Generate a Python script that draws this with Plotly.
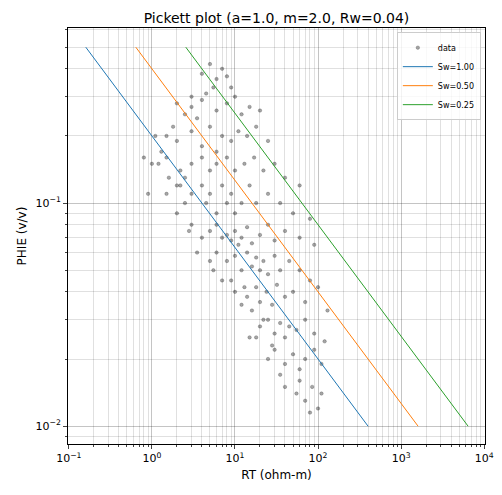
import plotly.graph_objects as go

# scatter data (RT ohm-m, PHIE v/v)
rt = [4, 5, 6, 7, 5.5, 8, 4.5, 3, 9,
      2, 2.5, 3, 4, 6, 8, 10, 12, 15, 20, 3.5, 1.8,
      1.5, 2, 3, 4, 5, 7, 9, 11, 14, 18, 25, 1.3, 6,
      1.2, 1.5, 2.2, 3, 4, 5, 6, 8, 10, 13, 17, 22, 30, 40, 2.5,
      1.5, 2, 2.5, 3, 4, 4.5, 5, 6, 7, 8, 9, 10, 12, 15, 18, 25, 35, 50, 60, 80,
      3, 4, 5, 6, 7, 8, 9, 10, 11, 12, 14, 16, 20, 25, 30, 40, 60, 90, 3.5, 5,
      6, 8, 10, 12, 14, 16, 18, 20, 22, 25, 30, 35, 45, 60, 80, 9, 13,
      10, 14, 18, 20, 24, 28, 32, 40, 50, 70, 100, 130, 16, 22,
      20, 25, 30, 35, 40, 45, 55, 70, 90, 120, 15, 28,
      25, 30, 40, 50, 60, 70, 90, 110, 35,
      40, 55, 70, 85, 100, 110, 60, 80,
      0.8, 1.0, 0.9, 1.1, 2.0, 2.8, 5.5, 7, 12, 18, 2.2, 1.6]
phie = [0.38, 0.42, 0.36, 0.40, 0.33, 0.37, 0.31, 0.30, 0.33,
        0.28, 0.25, 0.27, 0.29, 0.26, 0.28, 0.30, 0.25, 0.27, 0.26, 0.24, 0.22,
        0.20, 0.19, 0.21, 0.18, 0.22, 0.20, 0.19, 0.21, 0.20, 0.22, 0.19, 0.17, 0.17,
        0.15, 0.16, 0.14, 0.15, 0.16, 0.14, 0.15, 0.16, 0.14, 0.15, 0.16, 0.14, 0.15, 0.13, 0.13,
        0.11, 0.12, 0.10, 0.11, 0.12, 0.10, 0.11, 0.09, 0.12, 0.10, 0.11, 0.09, 0.10, 0.12, 0.10, 0.11, 0.10, 0.09, 0.12, 0.085,
        0.08, 0.07, 0.075, 0.08, 0.07, 0.072, 0.068, 0.075, 0.065, 0.07, 0.078, 0.066, 0.072, 0.08, 0.068, 0.075, 0.07, 0.065, 0.06, 0.055,
        0.06, 0.055, 0.058, 0.05, 0.06, 0.052, 0.057, 0.05, 0.055, 0.048, 0.058, 0.05, 0.055, 0.05, 0.045, 0.045, 0.042,
        0.04, 0.038, 0.042, 0.036, 0.04, 0.035, 0.043, 0.038, 0.04, 0.036, 0.042, 0.033, 0.033, 0.03,
        0.028, 0.03, 0.026, 0.029, 0.025, 0.028, 0.027, 0.03, 0.026, 0.024, 0.025, 0.023,
        0.02, 0.022, 0.019, 0.021, 0.018, 0.02, 0.022, 0.019, 0.017,
        0.015, 0.014, 0.013, 0.015, 0.012, 0.014, 0.016, 0.0115,
        0.16, 0.15, 0.11, 0.2, 0.09, 0.075, 0.05, 0.045, 0.035, 0.025, 0.12, 0.13]

# Sw lines, endpoints at PHIE 0.5 and 0.01
line_phie = [0.5, 0.01]
sw_labels = ["Sw=1.00", "Sw=0.50", "Sw=0.25"]
sw_rt = [[0.16, 400], [0.64, 1600], [2.56, 6400]]
sw_colors = ["#1f77b4", "#ff7f0e", "#2ca02c"]

fig = go.Figure()
fig.add_trace(go.Scatter(x=rt, y=phie, mode="markers", name="data",
                         marker=dict(size=3.5, color="rgba(0,0,0,0.35)",
                                     line=dict(width=0.5, color="rgba(0,0,0,0.4)"))))
for lab, xs, c in zip(sw_labels, sw_rt, sw_colors):
    fig.add_trace(go.Scatter(x=xs, y=line_phie, mode="lines", name=lab,
                             line=dict(color=c, width=1)))

grid = "rgba(0,0,0,0.12)"
common = dict(type="log", showgrid=True, gridcolor=grid, ticks="outside", ticklen=4,
              minor=dict(showgrid=True, gridcolor=grid, ticks="outside", ticklen=2, dtick="D1"),
              showline=True, linecolor="black", mirror=True, zeroline=False,
              automargin=False, tickfont=dict(size=11))
fig.update_xaxes(range=[-1.01, 4.01],
                 tickvals=[0.1, 1, 10, 100, 1000, 10000],
                 ticktext=["10<sup>−1</sup>", "10<sup>0</sup>", "10<sup>1</sup>",
                           "10<sup>2</sup>", "10<sup>3</sup>", "10<sup>4</sup>"],
                 title=dict(text="RT (ohm-m)", standoff=6, font=dict(size=12)), **common)
fig.update_yaxes(range=[-2.08, -0.215],
                 tickvals=[0.01, 0.1],
                 ticktext=["10<sup>−2</sup>", "10<sup>−1</sup>"],
                 title=dict(text="PHIE (v/v)", standoff=6, font=dict(size=12)), **common)
fig.update_layout(
    width=502, height=495, template="none",
    font=dict(family="DejaVu Sans", size=12, color="black"),
    title=dict(text="Pickett plot (a=1.0, m=2.0, Rw=0.04)", x=0.5, xref="paper",
               y=0.99, yanchor="top", xanchor="center", font=dict(size=14)),
    margin=dict(l=60, r=25, t=20, b=59),
    plot_bgcolor="white", paper_bgcolor="white",
    legend=dict(x=0.99, y=0.99, xanchor="right", yanchor="top",
                bgcolor="rgba(255,255,255,0.8)", bordercolor="#ccc", borderwidth=1,
                font=dict(size=8)),
)
fig.write_html("out.html")
